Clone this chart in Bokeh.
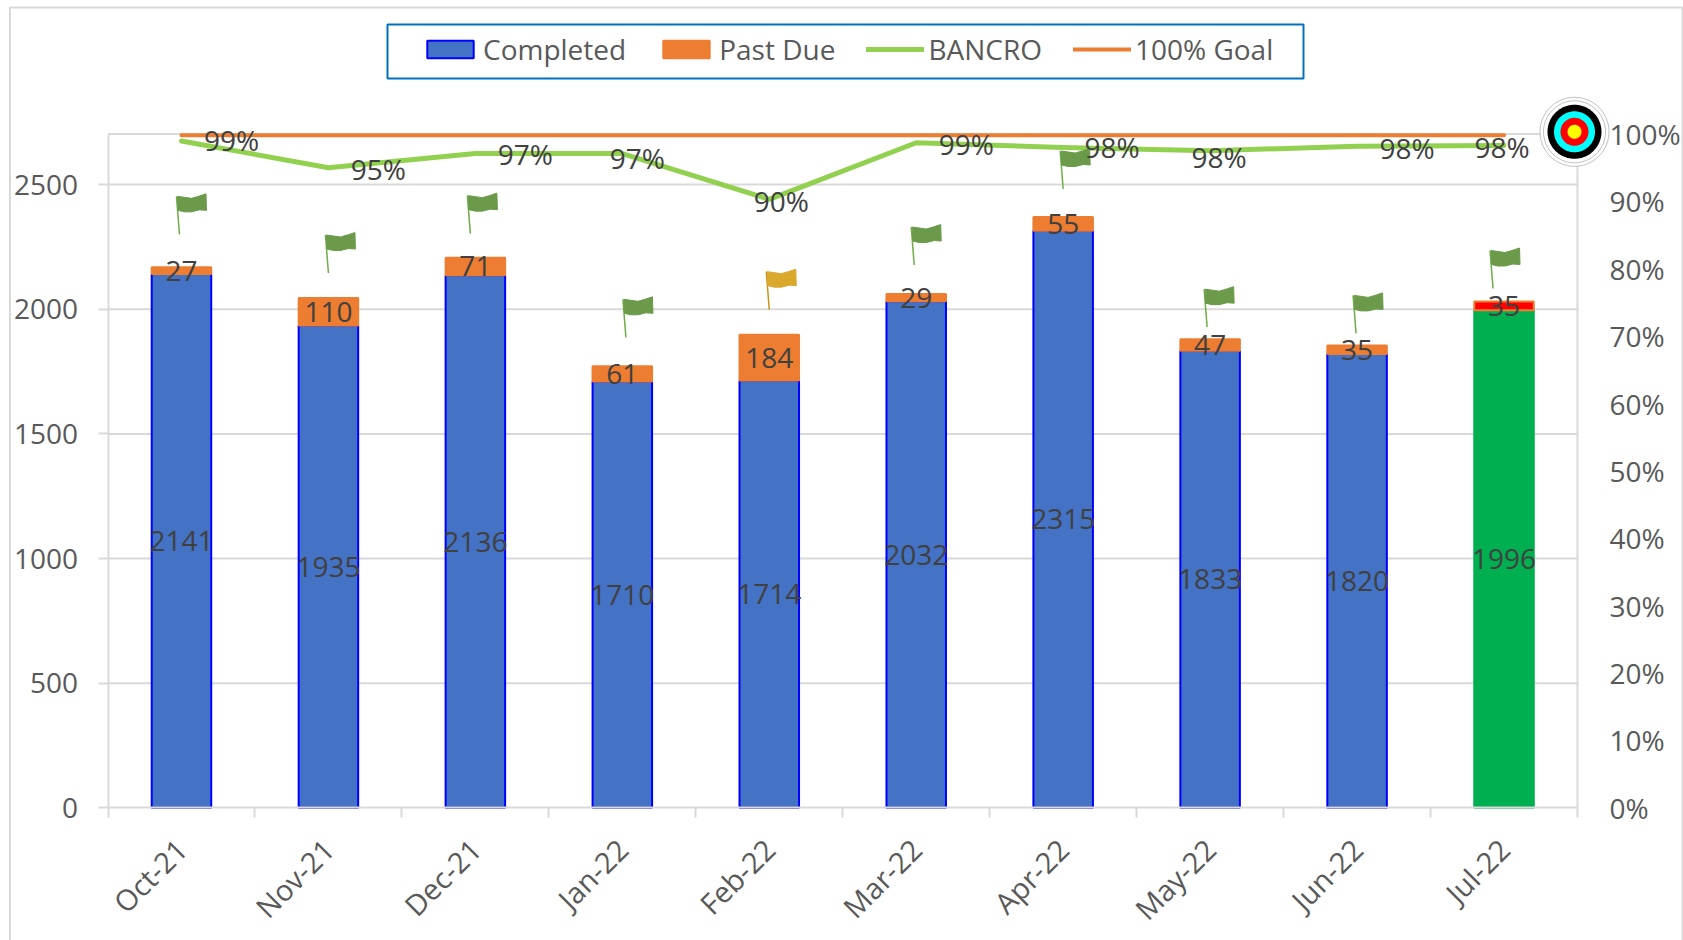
import math
from bokeh.embed import file_html
from bokeh.resources import INLINE
from bokeh.plotting import figure
from bokeh.models import (ColumnDataSource, Range1d, LinearAxis,
                          FixedTicker, Legend, LegendItem, BoxAnnotation, PolyAnnotation,
                          PrintfTickFormatter)
from bokeh.core.properties import value

# ---------- data ----------
months = ["Oct-21", "Nov-21", "Dec-21", "Jan-22", "Feb-22", "Mar-22", "Apr-22", "May-22", "Jun-22", "Jul-22"]
completed = [2141, 1935, 2136, 1710, 1714, 2032, 2315, 1833, 1820, 1996]
past_due = [27, 110, 71, 61, 184, 29, 55, 47, 35, 35]
bancro = [98.95, 95.0, 97.1, 97.1, 90.3, 98.7, 98.0, 97.5, 98.2, 98.3]
bancro_labels = ["99%", "95%", "97%", "97%", "90%", "99%", "98%", "98%", "98%", "98%"]
goal = [99.8] * 10
flag_state = ["green", "green", "green", "green", "gold", "green", "green", "green", "green", "green"]
left_ticks = [0, 500, 1000, 1500, 2000, 2500]
right_ticks = [0, 10, 20, 30, 40, 50, 60, 70, 80, 90, 100]

# ---------- styling / placement (pixels) ----------
WIDTH, HEIGHT = 1683, 940
# the plotting frame fills the page; the axes are pinned at these pixel positions
AX_L, AX_R, AX_T, AX_B = 107.5, 1577.0, 133.5, 807.3
Y_MAX = 2703
N = len(months)
x_px = (AX_R - AX_L) / N
y_px = (AX_B - AX_T) / Y_MAX
pct_px = (AX_B - AX_T) / 100
FONT = "Open Sans"
FS = "28px"
GRID = "#D9D9D9"
TXT_AXIS = "#595959"
TXT_LABEL = "#404040"
BLUE, ORANGE, LINE_GREEN = "#4472C4", "#ED7D31", "#92D050"

label_dx = [50, 50, 50, 15, 12, 50, 49, 9, 50, -2]
label_dy = [-1, 1, 0, 4, 2, 1, 0, 6, 2, 2]
flag_dx = [-2, 0, -5, 3.6, 0, -2, 0, -3, -1, -11]
flag_gap = [33, 25, 24, 29, 25, 29, 28, 12, 12, 13]
flag_shape = [(-2, -38), (5, -37), (12, -36), (19, -38), (26.5, -40.5), (27, -24),
              (20, -24.5), (12, -22.5), (5, -22.5), (-1.5, -24)]
flag_colors = {"green": ("#6A9A4A", "#70AD47"), "gold": ("#DAA82C", "#C9961C")}

pos = [i + 0.5 for i in range(N)]
edges = list(range(N + 1))
totals = [c + d for c, d in zip(completed, past_due)]
bar_fill = [BLUE] * 9 + ["#00B050"]
bar_line = ["#0000FF"] * 9 + ["#00B050"]
due_fill = [ORANGE] * 9 + ["#FF0000"]

bars = ColumnDataSource(dict(
    pos=pos, completed=completed, past_due=past_due, total=totals,
    fill=bar_fill, line=bar_line, due_fill=due_fill,
    label_c=[str(v) for v in completed], label_d=[str(v) for v in past_due],
    mid_c=[c / 2 for c in completed], mid_d=[c + d / 2 for c, d in zip(completed, past_due)],
))
rate = ColumnDataSource(dict(pos=pos, bancro=bancro, goal=goal, label=bancro_labels,
                             dx=label_dx, dy=label_dy))

p = figure(width=WIDTH, height=HEIGHT,
           x_range=Range1d(-AX_L / x_px, (WIDTH - AX_L) / x_px),
           y_range=Range1d(-(HEIGHT - AX_B) / y_px, AX_B / y_px),
           output_backend="svg", toolbar_location=None,
           min_border=0, background_fill_color="white", border_fill_color="white")
p.extra_y_ranges = {"pct": Range1d(-(HEIGHT - AX_B) / pct_px, AX_B / pct_px)}

p.outline_line_color = None
p.xgrid.visible = False
p.ygrid.visible = False

# left axis
ax = p.yaxis[0]
ax.fixed_location = 0
ax.bounds = (0, Y_MAX)
ax.ticker = FixedTicker(ticks=left_ticks)
ax.axis_line_color = GRID
ax.axis_line_width = 2
ax.major_tick_line_color = GRID
ax.major_tick_line_width = 2
ax.major_tick_in, ax.major_tick_out = 0, 10
ax.minor_tick_line_color = None
ax.major_label_standoff = 20
ax.major_label_text_font = FONT
ax.major_label_text_font_size = FS
ax.major_label_text_color = TXT_AXIS

# right axis
rx = LinearAxis(y_range_name="pct", fixed_location=N, bounds=(0, 100),
                ticker=FixedTicker(ticks=right_ticks),
                formatter=PrintfTickFormatter(format="%d%%"))
rx.axis_line_color = GRID
rx.axis_line_width = 2
rx.major_tick_line_color = None
rx.minor_tick_line_color = None
rx.major_tick_in, rx.major_tick_out = 0, 0
rx.major_label_standoff = 32
rx.major_label_text_font = FONT
rx.major_label_text_font_size = FS
rx.major_label_text_color = TXT_AXIS
p.add_layout(rx, "right")

# category axis: labels at the centres, tick marks at the edges
cx = p.xaxis[0]
cx.fixed_location = 0
cx.bounds = (0, N)
cx.ticker = FixedTicker(ticks=pos, minor_ticks=edges)
cx.major_label_overrides = dict(zip(pos, months))
cx.axis_line_color = GRID
cx.axis_line_width = 2
cx.major_tick_line_color = None
cx.major_tick_in, cx.major_tick_out = 0, 0
cx.minor_tick_line_color = GRID
cx.minor_tick_line_width = 2
cx.minor_tick_in, cx.minor_tick_out = 0, 10
cx.major_label_orientation = math.pi / 4
cx.major_label_standoff = 26
cx.major_label_text_font = FONT
cx.major_label_text_font_size = "29px"
cx.major_label_text_color = TXT_AXIS

# gridlines across the plot area only, plus its top edge
grid_y = left_ticks[1:] + [Y_MAX]
p.segment([0] * len(grid_y), grid_y, [N] * len(grid_y), grid_y, line_color=GRID, line_width=2)

# bars
BAR_W = 0.405
r_c = p.vbar(x="pos", top="completed", bottom=0, width=BAR_W, source=bars,
             fill_color="fill", line_color="line", line_width=2)
r_d = p.vbar(x="pos", top="total", bottom="completed", width=BAR_W, source=bars,
             fill_color="due_fill", line_color=ORANGE, line_width=2)

# lines
r_g = p.line(x="pos", y="goal", source=rate, y_range_name="pct", line_color=ORANGE,
             line_width=4, line_cap="round")
r_b = p.line(x="pos", y="bancro", source=rate, y_range_name="pct", line_color=LINE_GREEN,
             line_width=5, line_cap="round", line_join="round")

# flags, anchored above each stacked bar
fx, fy, fc, sx0, sy0, sx1, sy1, sc = [], [], [], [], [], [], [], []
for i, (t, dx, gap, st) in enumerate(zip(totals, flag_dx, flag_gap, flag_state)):
    ax0 = pos[i] + dx / x_px
    ay0 = t + gap / y_px
    fx.append([ax0 + a / x_px for a, _ in flag_shape])
    fy.append([ay0 - b / y_px for _, b in flag_shape])
    fc.append(flag_colors[st][0])
    sx0.append(ax0); sy0.append(ay0)
    sx1.append(ax0 - 3 / x_px); sy1.append(ay0 + 38 / y_px)
    sc.append(flag_colors[st][1])
p.segment(sx0, sy0, sx1, sy1, line_color=sc, line_width=1.5)
p.patches(fx, fy, fill_color=fc, line_color=fc, line_width=1)

# data labels
lab = dict(text_font=value(FONT), text_font_size=FS, text_color=TXT_LABEL,
           text_align="center", text_baseline="middle")
p.text(x="pos", y="mid_c", text="label_c", source=bars, **lab)
p.text(x="pos", y="mid_d", text="label_d", source=bars, **lab)
p.text(x="pos", y="bancro", text="label", source=rate, y_range_name="pct",
       x_offset="dx", y_offset="dy", **lab)

# legend
legend = Legend(items=[LegendItem(label="Completed", renderers=[r_c], index=0),
                       LegendItem(label="Past Due", renderers=[r_d], index=0),
                       LegendItem(label="BANCRO", renderers=[r_b]),
                       LegendItem(label="100% Goal", renderers=[r_g])],
                orientation="horizontal", location=(421, 872), padding=0, margin=0, spacing=31,
                glyph_width=58, glyph_height=22, label_standoff=4,
                label_text_font=FONT, label_text_font_size=FS, label_text_color=TXT_AXIS,
                border_line_color=None, background_fill_color=None)
p.add_layout(legend, "center")
p.add_layout(BoxAnnotation(left=387, right=1303, top=24, bottom=78,
                           left_units="canvas", right_units="canvas", top_units="canvas", bottom_units="canvas",
                           fill_color=None, line_color="#0070C0", line_alpha=1, line_width=2, level="overlay"))

# outer chart frame
p.add_layout(BoxAnnotation(left=9.5, right=WIDTH - 1, top=7, bottom=HEIGHT + 5,
                           left_units="canvas", right_units="canvas", top_units="canvas", bottom_units="canvas",
                           fill_color=None, line_color=GRID, line_alpha=1, line_width=2))

# target icon on the 100% corner
def disc(r, fill, line=None, lw=1):
    n = 96
    cxs, cys = 1574, 131.3
    xs = [cxs + r * math.cos(2 * math.pi * k / n) for k in range(n)]
    ys = [cys + r * math.sin(2 * math.pi * k / n) for k in range(n)]
    p.add_layout(PolyAnnotation(xs=xs, ys=ys, xs_units="canvas", ys_units="canvas", fill_color=fill, fill_alpha=1,
                                line_color=line, line_alpha=1, line_width=lw, level="overlay"))

disc(34.5, "white", "#BFBFBF", 1)
disc(31, "white", "#BFBFBF", 1)
disc(27, "#000000")
disc(20.5, "#00FFFF")
disc(14, "#FF0000")
disc(7, "#FFFF00")

open("out.html", "w").write(file_html(p, INLINE))
